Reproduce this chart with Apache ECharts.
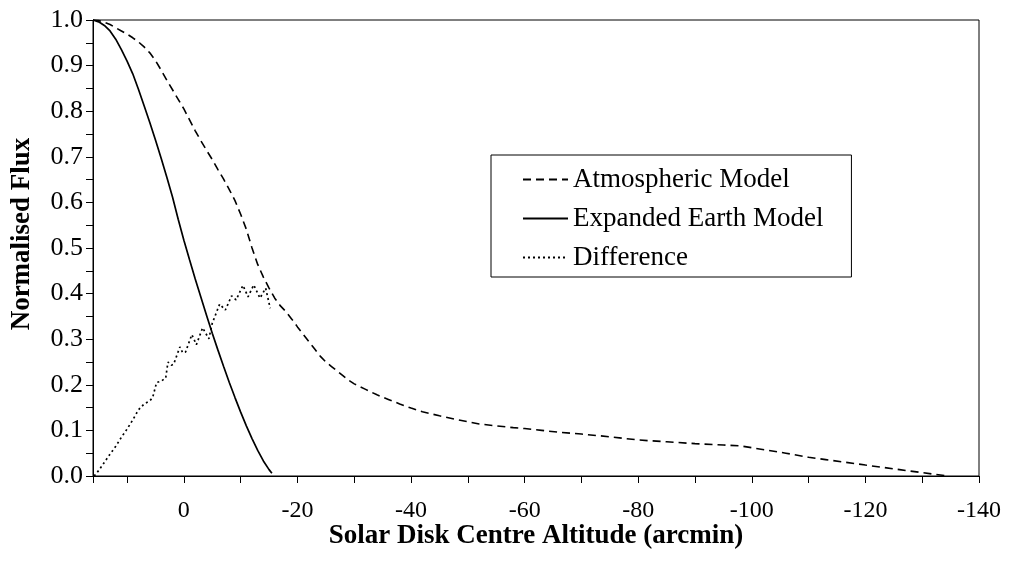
<!DOCTYPE html>
<html>
<head>
<meta charset="utf-8">
<script src="https://cdn.jsdelivr.net/npm/echarts@6/dist/echarts.min.js"></script>
<style>
html,body{margin:0;padding:0;background:#fff;}
#chart{width:1010px;height:568px;}
</style>
</head>
<body>
<div id="chart"></div>
<script>
// ---- Data ----
var seriesNames = ['Atmospheric Model', 'Expanded Earth Model', 'Difference'];

var atmX = [16, 15, 14, 13, 12, 11, 10, 9, 8, 7, 6, 5, 4, 3, 2, 1, 0, -1, -2, -3, -4, -5, -6, -7, -8, -9, -10, -11, -12, -13, -14, -15, -16, -17, -18, -19, -20, -21, -22, -23, -24, -25, -26, -27, -28, -29, -30, -32, -34, -36, -38, -40, -42, -45, -48, -50, -52, -55, -58, -60, -63, -66, -70, -75, -80, -85, -90, -95, -98, -100, -103, -106, -110, -113, -116, -120, -123, -126, -129, -132, -134.5];
var atmY = [1.000, 0.999, 0.995, 0.990, 0.983, 0.976, 0.969, 0.961, 0.952, 0.941, 0.928, 0.911, 0.890, 0.868, 0.847, 0.826, 0.805, 0.781, 0.757, 0.735, 0.714, 0.694, 0.672, 0.651, 0.628, 0.604, 0.574, 0.541, 0.500, 0.464, 0.436, 0.412, 0.390, 0.373, 0.360, 0.344, 0.327, 0.311, 0.295, 0.279, 0.263, 0.250, 0.240, 0.230, 0.220, 0.210, 0.202, 0.190, 0.178, 0.168, 0.158, 0.149, 0.141, 0.132, 0.124, 0.119, 0.114, 0.110, 0.106, 0.104, 0.100, 0.096, 0.092, 0.086, 0.079, 0.075, 0.071, 0.068, 0.066, 0.062, 0.056, 0.050, 0.041, 0.036, 0.031, 0.024, 0.019, 0.014, 0.009, 0.004, 0.000];

var earthX = [16, 15, 14, 13, 12, 11, 10, 9, 8, 7, 6, 5, 4, 3, 2, 1, 0, -1, -2, -3, -4, -5, -6, -7, -8, -9, -10, -11, -12, -13, -14, -15, -15.5];
var earthY = [1.000, 0.996, 0.988, 0.976, 0.958, 0.935, 0.910, 0.882, 0.848, 0.812, 0.775, 0.737, 0.697, 0.655, 0.612, 0.563, 0.517, 0.474, 0.432, 0.392, 0.352, 0.313, 0.276, 0.240, 0.205, 0.172, 0.140, 0.110, 0.082, 0.056, 0.033, 0.014, 0.006];

var diffX = [15.8, 15, 14, 13, 12, 11, 10, 9, 8, 7, 6, 5.5, 4.8, 4, 3.2, 2.8, 2.2, 1.8, 0.7, 0.2, -0.3, -1.4, -2.2, -3.3, -4.4, -5, -6.3, -7.3, -8.4, -9.2, -10.4, -11.3, -12.3, -13.4, -14.4, -15.2];
var diffY = [0.000, 0.012, 0.030, 0.048, 0.065, 0.085, 0.103, 0.123, 0.145, 0.158, 0.165, 0.172, 0.205, 0.208, 0.215, 0.250, 0.243, 0.245, 0.283, 0.270, 0.272, 0.310, 0.288, 0.325, 0.301, 0.335, 0.377, 0.364, 0.395, 0.386, 0.418, 0.393, 0.419, 0.390, 0.412, 0.368];

var xTitle = 'Solar Disk Centre Altitude (arcmin)';
var yTitle = 'Normalised Flux';

function zip(xs, ys) { return xs.map(function (x, i) { return [x, ys[i]]; }); }

var FONT = "'Liberation Serif', 'Times New Roman', serif";

var chart = echarts.init(document.getElementById('chart'), null, {renderer: 'canvas'});
chart.setOption({
  animation: false,
  backgroundColor: '#fff',
  textStyle: {fontFamily: FONT, color: '#000'},
  grid: {left: 93, right: 31, top: 20, bottom: 92, show: true, borderColor: '#000', borderWidth: 1, backgroundColor: 'transparent'},
  legend: {
    orient: 'vertical', left: 491, top: 155,
    padding: [11, 28, 6, 31], itemGap: 12, itemWidth: 45, itemHeight: 26,
    borderColor: '#000', borderWidth: 1, backgroundColor: '#fff',
    itemStyle: {opacity: 0, borderWidth: 0},
    textStyle: {fontFamily: FONT, fontSize: 27, color: '#000'},
    data: seriesNames
  },
  xAxis: {
    type: 'value', min: -140, max: 16, interval: 10, inverse: true,
    name: xTitle, nameLocation: 'middle', nameGap: 47, nameMoveOverlap: false,
    nameTextStyle: {fontFamily: FONT, fontSize: 27, fontWeight: 'bold', color: '#000'},
    axisLine: {show: true, onZero: false, lineStyle: {color: '#000', width: 1}},
    axisTick: {show: true, inside: false, length: 7, lineStyle: {color: '#000', width: 1}},
    axisLabel: {margin: 23, fontFamily: FONT, fontSize: 24, color: '#000',
      formatter: function (v) { return (Math.round(v) % 20 === 0) ? String(Math.round(v)) : ''; }},
    splitLine: {show: false}
  },
  yAxis: {
    type: 'value', min: 0, max: 1, interval: 0.05,
    name: yTitle, nameLocation: 'middle', nameGap: 57, nameRotate: 90, nameMoveOverlap: false,
    nameTextStyle: {fontFamily: FONT, fontSize: 27, fontWeight: 'bold', color: '#000', padding: [0, 0, 0, 28]},
    axisLine: {show: true, onZero: false, lineStyle: {color: '#000', width: 1}},
    axisTick: {show: true, inside: false, length: 7, lineStyle: {color: '#000', width: 1}},
    axisLabel: {margin: 10, fontFamily: FONT, fontSize: 26, color: '#000',
      formatter: function (v) { var k = Math.round(v * 100); return (k % 10 === 0) ? (k / 100).toFixed(1) : ''; }},
    splitLine: {show: false}
  },
  series: [
    {name: seriesNames[0], type: 'line', data: zip(atmX, atmY), symbol: 'none', smooth: false,
     lineStyle: {color: '#000', width: 1.6, type: [8, 5]}, itemStyle: {color: '#000'}},
    {name: seriesNames[1], type: 'line', data: zip(earthX, earthY), symbol: 'none', smooth: false,
     lineStyle: {color: '#000', width: 1.7, type: 'solid'}, itemStyle: {color: '#000'}},
    {name: seriesNames[2], type: 'line', data: zip(diffX, diffY), symbol: 'none', smooth: false,
     lineStyle: {color: '#000', width: 1.7, type: [2, 3]}, itemStyle: {color: '#000'}}
  ]
});
</script>
</body>
</html>
